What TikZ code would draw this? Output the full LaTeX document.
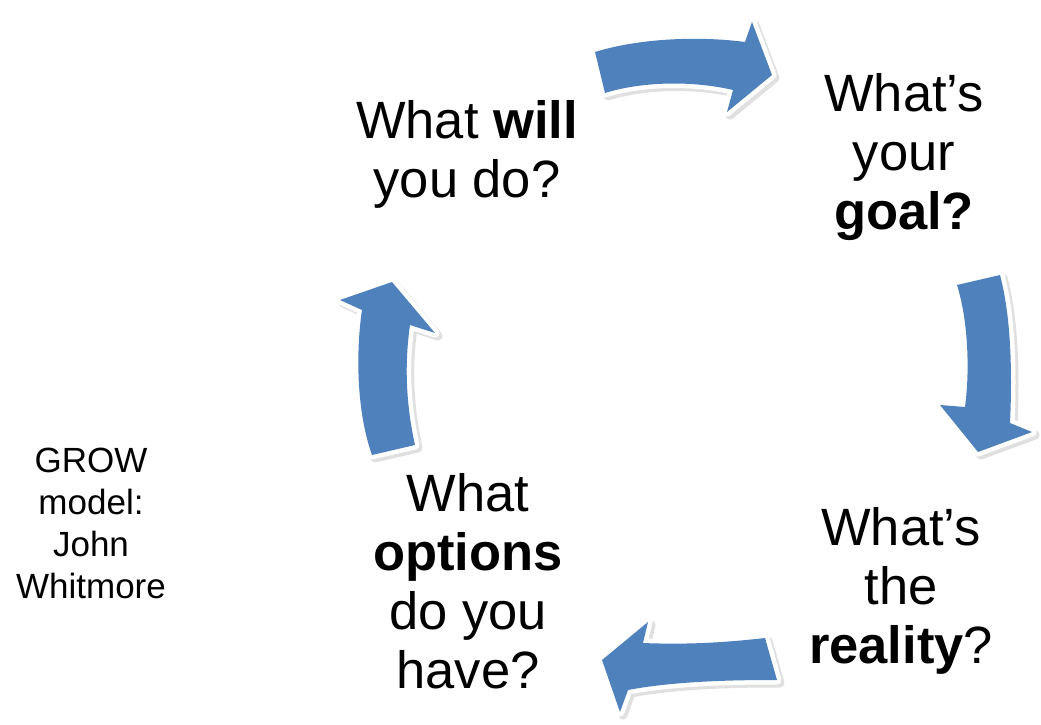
\documentclass[tikz,border=0pt]{standalone}
\usepackage{fontspec}
\setmainfont{Liberation Sans}
\definecolor{arrowblue}{RGB}{79,129,189}
\tikzset{
  bigarrow/.style={fill=arrowblue, line join=round,
    preaction={transform canvas={shift={(3pt,-3pt)}}, draw=black, fill=black, opacity=0.12, line width=9pt, line join=round},
    preaction={draw=white, fill=white, line width=9pt, line join=round}},
  bigtext/.style={align=center, anchor=base, inner sep=0pt, font=\fontsize{52.5}{59}\selectfont},
  smalltext/.style={align=center, anchor=base, inner sep=0pt, font=\fontsize{35}{42}\selectfont}
}
\begin{document}
\begin{tikzpicture}[x=1pt,y=-1pt]
\useasboundingbox (0,0) rectangle (1041,725);
% arrows
\path[bigarrow] (595,52) .. controls (640,38) and (700,36) .. (745,42) -- (752,22) -- (772,75) -- (727,112) -- (733,90) .. controls (690,80) and (640,82) .. (605,93) -- cycle;
\path[bigarrow] (957,285) -- (1000,275) .. controls (1012,320) and (1012,380) .. (1010,423) -- (1032,432) -- (978,452) -- (940,405) -- (965,407) .. controls (970,370) and (968,320) .. (957,285) -- cycle;
\path[bigarrow] (765,638) -- (777,680) .. controls (750,680) and (680,680) .. (628,690) -- (620,712) -- (602,660) -- (648,622) -- (643,643) .. controls (690,645) and (730,642) .. (765,638) -- cycle;
\path[bigarrow] (372,455) -- (415,445) .. controls (405,400) and (405,360) .. (410,325) -- (435,333) -- (392,282) -- (340,300) -- (362,310) .. controls (356,350) and (356,410) .. (372,455) -- cycle;
% texts (anchored at the baseline of the last line)
\node[bigtext] (will) at (467,197) {What \textbf{will}\\you do?};
\node[bigtext] (goal) at (904,229) {What’s\\your\\\textbf{goal?}};
\node[bigtext] (reality) at (901,663) {What’s\\the\\\textbf{reality}?};
\node[bigtext] (options) at (468,688) {What\\\textbf{options}\\do you\\have?};
\node[smalltext] (grow) at (91,598) {GROW\\model:\\John\\Whitmore};
\end{tikzpicture}
\end{document}
